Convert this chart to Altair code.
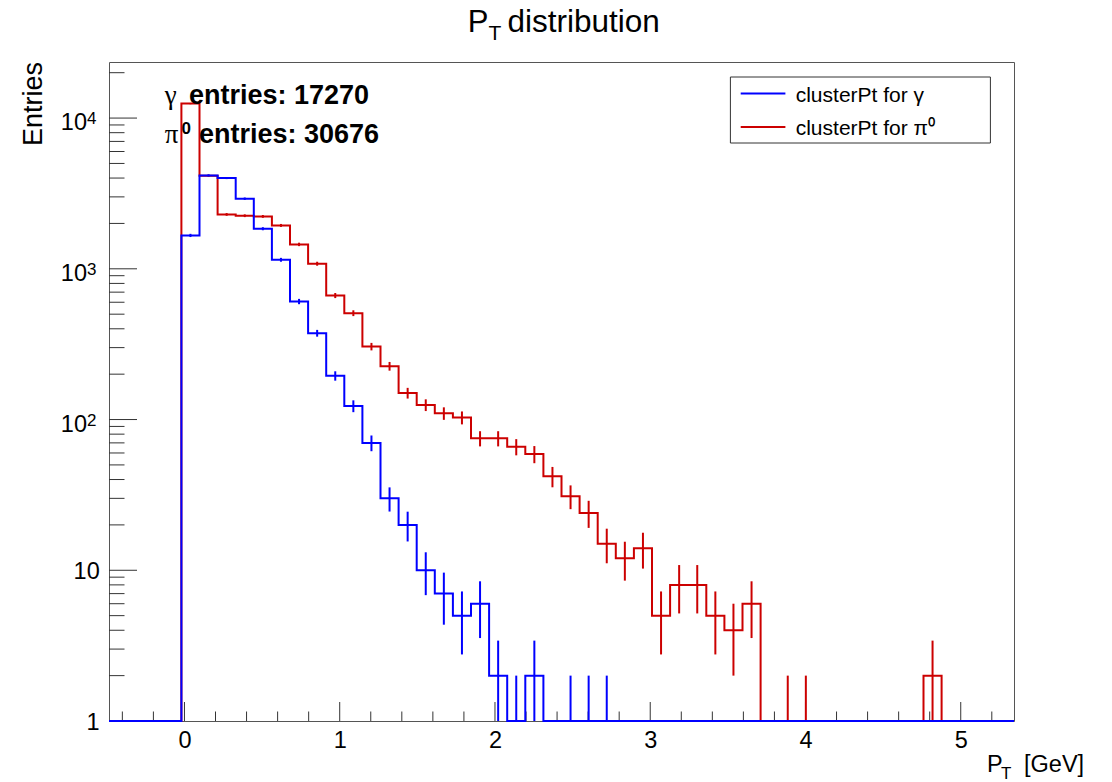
import math
import altair as alt
import pandas as pd

# ---------------- data ----------------
x_low, x_high, n_bins = -0.486, 5.343, 50
bin_width = (x_high - x_low) / n_bins

gamma_counts = [0, 0, 0, 0, 1665, 4167, 4000, 2918, 1845, 1148,
                607, 374, 195, 123, 70, 30, 20, 10, 7, 5,
                6, 2, 1, 2, 0, 1, 1, 1, 0, 0,
                0, 0, 0, 0, 0, 0, 0, 0, 0, 0,
                0, 0, 0, 0, 0, 0, 0, 0, 0, 0]
pi0_counts = [0, 0, 0, 0, 12470, 4150, 2295, 2250, 2227, 1940,
              1452, 1081, 665, 508, 305, 226, 150, 125, 110, 103,
              75, 75, 66, 59, 42, 31, 24, 15, 12, 14,
              5, 8, 8, 5, 4, 6, 0, 1, 1, 0,
              0, 0, 0, 0, 0, 2, 0, 0, 0, 0]

x_major_ticks = [0, 1, 2, 3, 4, 5]
x_minor_ticks = [-0.4, -0.2, 0.2, 0.4, 0.6, 0.8, 1.2, 1.4, 1.6, 1.8, 2.2, 2.4, 2.6, 2.8,
                 3.2, 3.4, 3.6, 3.8, 4.2, 4.4, 4.6, 4.8, 5.2]
y_major_ticks = [1, 10, 100, 1000, 10000]
y_label_base = ["1", "10", "10", "10", "10"]
y_label_exp = ["", "", "2", "3", "4"]
y_minor_ticks = [m * d for d in [1, 10, 100, 1000] for m in range(2, 10)] + [20000]
y_top = 23550

series_names = ["clusterPt for γ", "clusterPt for π⁰"]
series_colors = ["#0000ff", "#cc0000"]
entries_text = ["entries: 17270", "entries: 30676"]

FONT = "Liberation Sans"
W, H = 905, 659
LABEL_SIZE = 23.5

xs = alt.Scale(domain=[x_low, x_high], nice=False, zero=False)
ys = alt.Scale(type="log", domain=[1, y_top], nice=False)

x_axis = alt.Axis(values=x_major_ticks, format="d", labelFont=FONT, labelFontSize=LABEL_SIZE,
                  labelColor="black", labelPadding=7, ticks=False, domain=False,
                  grid=False, title=None, labelFlush=False)


def step_frame(counts):
    rows = [{"x": x_low + k * bin_width, "y": max(c, 1), "o": k} for k, c in enumerate(counts)]
    rows.append({"x": x_high, "y": max(counts[-1], 1), "o": n_bins})
    return pd.DataFrame(rows)


def err_frame(counts):
    rows = []
    for k, c in enumerate(counts):
        if c > 0:
            s = math.sqrt(c)
            rows.append({"x": x_low + (k + 0.5) * bin_width,
                         "lo": max(c - s, 1), "hi": c + s})
    return pd.DataFrame(rows)


def hist_layers(counts, color):
    step = alt.Chart(step_frame(counts)).mark_line(
        interpolate="step-after", color=color, strokeWidth=2
    ).encode(
        x=alt.X("x:Q", scale=xs, axis=x_axis),
        y=alt.Y("y:Q", scale=ys, axis=None),
        order="o:Q",
    )
    err = alt.Chart(err_frame(counts)).mark_rule(color=color, strokeWidth=2).encode(
        x=alt.X("x:Q", scale=xs, axis=x_axis),
        y=alt.Y("lo:Q", scale=ys, axis=None),
        y2="hi:Q",
    )
    return [step, err]


TICK = "#333333"
xmaj = alt.Chart(pd.DataFrame({"x": x_major_ticks})).mark_rule(color=TICK, strokeWidth=1).encode(
    x=alt.X("x:Q", scale=xs, axis=x_axis), y=alt.value(H), y2=alt.value(H - 19))
xmin = alt.Chart(pd.DataFrame({"x": x_minor_ticks})).mark_rule(color=TICK, strokeWidth=1).encode(
    x=alt.X("x:Q", scale=xs, axis=x_axis), y=alt.value(H), y2=alt.value(H - 9.5))
ymaj = alt.Chart(pd.DataFrame({"y": y_major_ticks})).mark_rule(color=TICK, strokeWidth=1).encode(
    y=alt.Y("y:Q", scale=ys, axis=None), x=alt.value(0), x2=alt.value(28))
ymin = alt.Chart(pd.DataFrame({"y": y_minor_ticks})).mark_rule(color=TICK, strokeWidth=1).encode(
    y=alt.Y("y:Q", scale=ys, axis=None), x=alt.value(0), x2=alt.value(15.5))

# y tick labels: 1, 10, 10^2, 10^3, 10^4 (with real raised exponents)
ylab = pd.DataFrame({"y": y_major_ticks, "base": y_label_base, "exp": y_label_exp})
ylab_plain = alt.Chart(ylab).transform_filter("datum.exp == ''").mark_text(
    font=FONT, fontSize=LABEL_SIZE, align="right", baseline="alphabetic", dy=8.6
).encode(y=alt.Y("y:Q", scale=ys, axis=None), x=alt.value(-9.3), text="base:N")
ylab_base = alt.Chart(ylab).transform_filter("datum.exp != ''").mark_text(
    font=FONT, fontSize=LABEL_SIZE, align="right", baseline="alphabetic", dy=12.1
).encode(y=alt.Y("y:Q", scale=ys, axis=None), x=alt.value(-22), text="base:N")
ylab_exp = alt.Chart(ylab).transform_filter("datum.exp != ''").mark_text(
    font=FONT, fontSize=17, align="left", baseline="alphabetic", dy=6.2
).encode(y=alt.Y("y:Q", scale=ys, axis=None), x=alt.value(-22), text="exp:N")


def label(txt, x, y, size, weight="normal", font=FONT, align="left",
          baseline="alphabetic", angle=0, color="black"):
    return alt.Chart(pd.DataFrame({"t": [txt]})).mark_text(
        font=font, fontSize=size, fontWeight=weight, align=align,
        baseline=baseline, angle=angle, color=color
    ).encode(text="t:N", x=alt.value(x), y=alt.value(y))


texts = [
    # title  P_T distribution
    label("P", 358.7, -30, 31),
    label("T", 379.5, -22, 21),
    label("distribution", 398.5, -30, 31.5),
    # axis titles
    label("Entries", -67, 0, 27, align="right", angle=270),
    label("P", 878, 709.5, 23.5),
    label("T", 892, 716.5, 17),
    label("[GeV]", 915, 709.5, 23.5),
    # entries annotations
    label("γ", 55.7, 41.6, 27, font="Liberation Serif"),
    label(entries_text[0], 80, 41.6, 27, weight="bold"),
    label("π", 55.7, 81, 27, font="Liberation Serif"),
    label("0", 72.4, 72.3, 17, weight="bold"),
    label(entries_text[1], 90, 81, 27, weight="bold"),
]

legend_box = alt.Chart(pd.DataFrame({"a": [0]})).mark_rect(
    fill="white", stroke="#333333", strokeWidth=1
).encode(x=alt.value(621.4), x2=alt.value(881.4), y=alt.value(15), y2=alt.value(81))
legend_items = [legend_box]
for i, (name, col) in enumerate(zip(series_names, series_colors)):
    yy = 31.6 + i * 33.4
    legend_items.append(
        alt.Chart(pd.DataFrame({"a": [0]})).mark_rule(color=col, strokeWidth=2).encode(
            x=alt.value(631.7), x2=alt.value(676.4), y=alt.value(yy)))
    legend_items.append(label(name, 686.7, yy + 8.2, 21))

layers = ([xmaj, xmin, ymaj, ymin, ylab_plain, ylab_base, ylab_exp]
          + hist_layers(pi0_counts, series_colors[1])
          + hist_layers(gamma_counts, series_colors[0])
          + texts + legend_items)

chart = alt.layer(*layers).properties(
    width=W, height=H,
    autosize=alt.AutoSizeParams(type="none"),
    padding={"left": 101, "top": 54, "right": 90, "bottom": 60},
    background="white",
).configure_view(stroke="#555555", strokeWidth=1)

chart.save("out.html", embed_options={"renderer": "svg", "actions": False})
